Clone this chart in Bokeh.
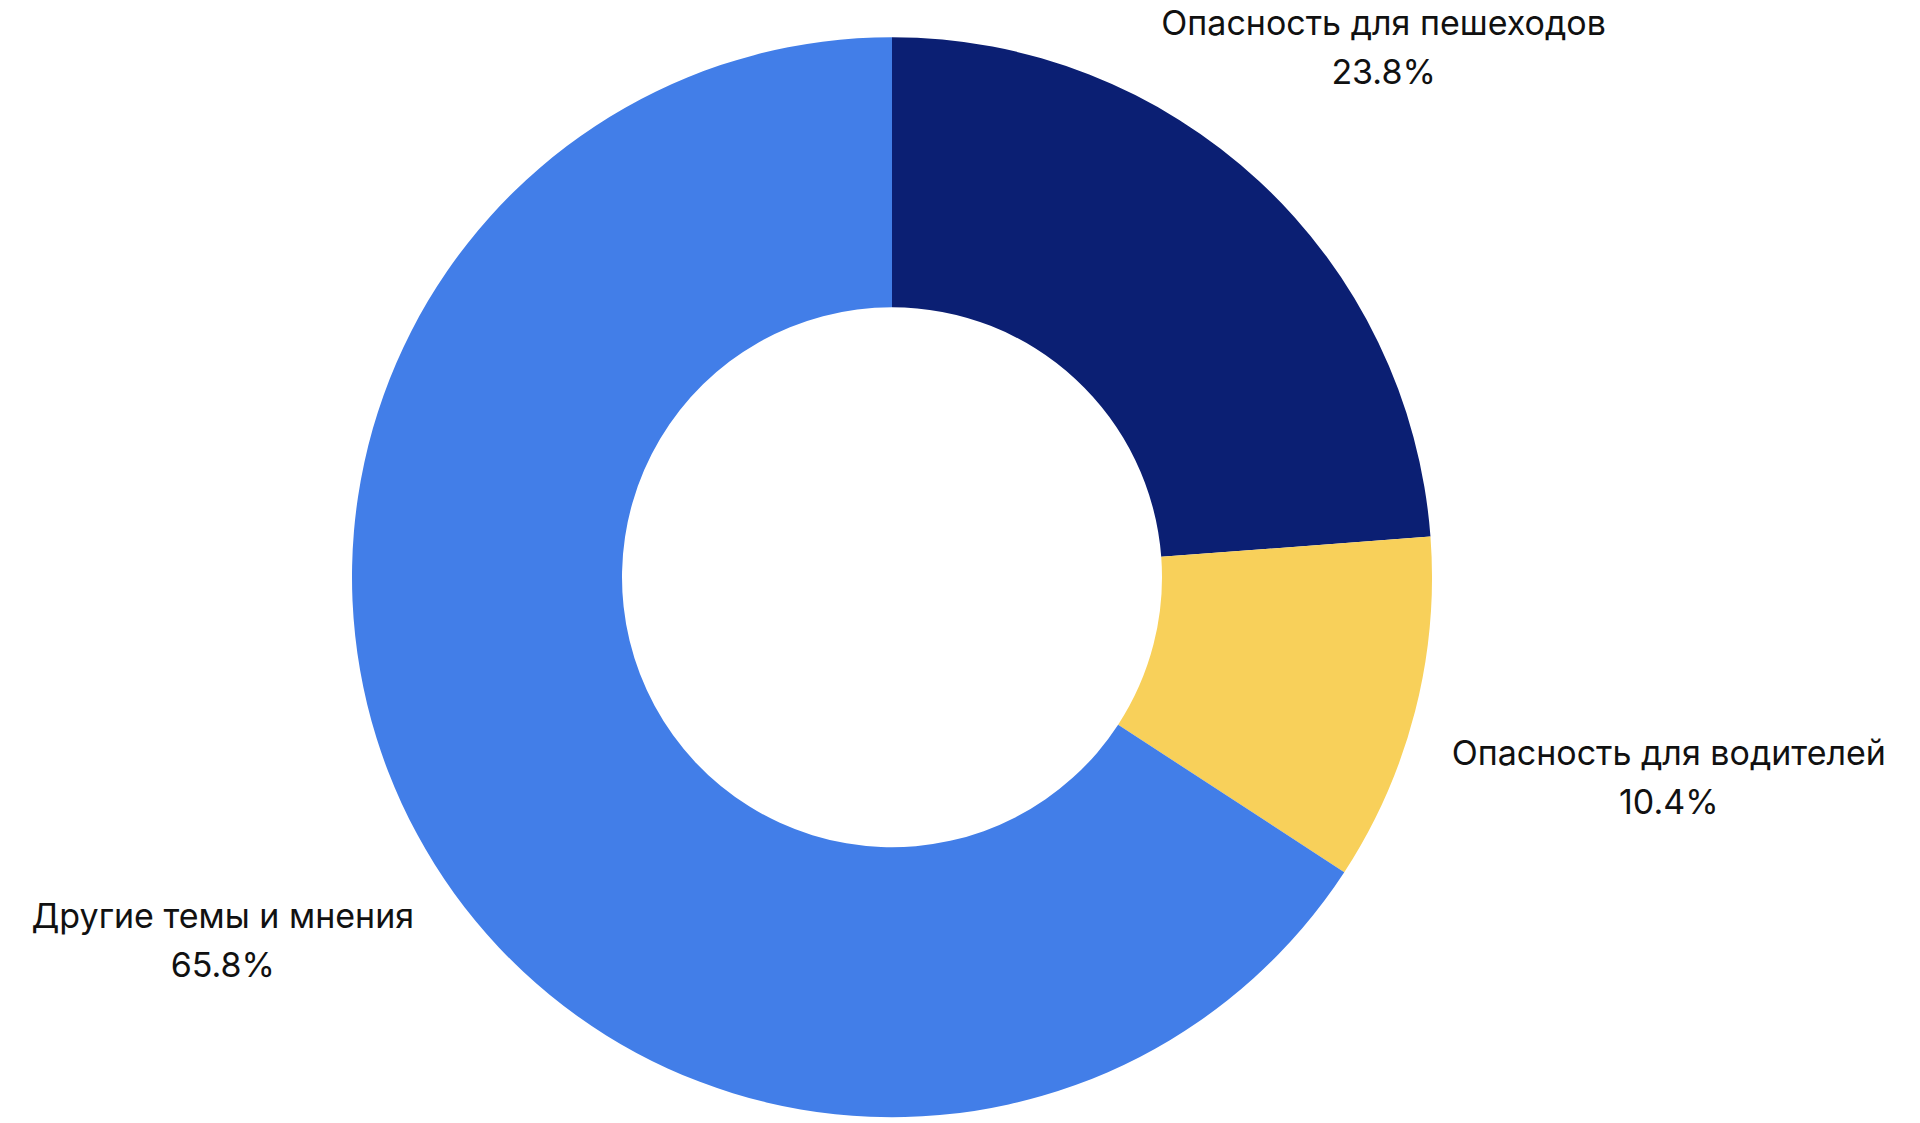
import math
from bokeh.plotting import figure
from bokeh.models import ColumnDataSource, Range1d
from bokeh.core.properties import value
from bokeh.embed import file_html
from bokeh.resources import INLINE

categories = ["Опасность для пешеходов", "Опасность для водителей", "Другие темы и мнения"]
shares = [23.8, 10.4, 65.8]
colors = ["#0B1F73", "#F8D05A", "#427EE8"]
label_dist = [723, 802, 761]

W, H = 1904, 1120
cx, cy = 891.5, H - 576.7
R_out, R_in = 540, 270

total = sum(shares)
starts, ends, mids = [], [], []
acc = 0.0
for s in shares:
    a0 = math.pi / 2 - 2 * math.pi * acc / total
    a1 = math.pi / 2 - 2 * math.pi * (acc + s) / total
    starts.append(a1)
    ends.append(a0)
    mids.append((a0 + a1) / 2)
    acc += s

src = ColumnDataSource(dict(start=starts, end=ends, color=colors))

p = figure(width=W, height=H, output_backend="svg", toolbar_location=None,
           x_range=Range1d(0, W), y_range=Range1d(0, H), min_border=0)
p.axis.visible = False
p.grid.visible = False
p.outline_line_color = None
p.background_fill_color = "white"

p.annular_wedge(x=cx, y=cy, inner_radius=R_in, outer_radius=R_out,
                start_angle="start", end_angle="end", fill_color="color",
                line_color=None, source=src)

lx = [cx + d * math.cos(m) for d, m in zip(label_dist, mids)]
ly = [cy + d * math.sin(m) for d, m in zip(label_dist, mids)]
texts = [f"{c}\n{s:.1f}%" for c, s in zip(categories, shares)]
lsrc = ColumnDataSource(dict(x=lx, y=ly, t=texts))
p.text(x="x", y="y", text="t", source=lsrc, text_align="center",
       text_baseline="middle", text_font=value("Inter"),
       text_font_size="34px", text_color="#111111", text_line_height=1.2)

open("out.html", "w").write(file_html(p, INLINE))
